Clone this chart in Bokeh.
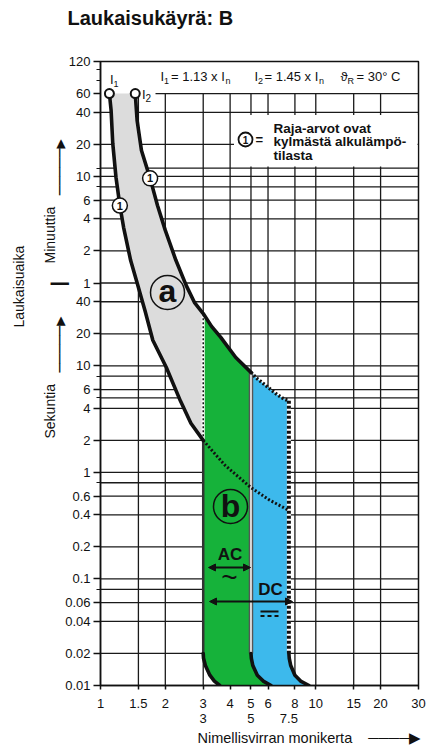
import math
from bokeh.plotting import figure
from bokeh.models import (FixedTicker, Label, Arrow, NormalHead, Title, LogAxis)
from bokeh.embed import file_html
from bokeh.resources import INLINE

# ---------------- data ----------------
x_ticks = [1, 1.5, 2, 3, 4, 5, 6, 8, 10, 15, 20, 30]
x_tick_labels = ["1", "1.5", "2", "3", "4", "5", "6", "8", "10", "15", "20", "30"]
x_second_row = [3, 5, 7.5]
x_second_labels = ["3", "5", "7.5"]
x_grid = [1.5, 2, 3, 4, 5, 6, 8, 10, 15, 20]

sec_ticks = [0.01, 0.02, 0.04, 0.06, 0.1, 0.2, 0.4, 0.6, 1, 2, 4, 6, 10, 20, 40]
sec_labels = ["0.01", "0.02", "0.04", "0.06", "0.1", "0.2", "0.4", "0.6",
              "1", "2", "4", "6", "10", "20", "40"]
min_ticks = [1, 2, 4, 6, 10, 20, 40, 60, 120]
min_labels = ["1", "2", "4", "6", "10", "20", "40", "60", "120"]
sec_minor = [0.08, 0.8, 5, 8]
min_minor = [8, 12, 80, 100]
sec_grid = [0.02, 0.04, 0.06, 0.08, 0.1, 0.2, 0.4, 0.6, 0.8, 1, 2, 4, 5, 6, 8, 10, 20, 40]
min_grid = [1, 2, 4, 6, 8, 10, 12, 20, 40]
min_grid_top = 60

# I1 curve (lower thermal limit), multiple of In vs seconds
i1_x = [1.10, 1.12, 1.14, 1.18, 1.23, 1.28, 1.38, 1.48, 1.61, 1.75, 2.02, 2.35, 2.63, 3.0]
i1_t = [3600, 2500, 1230, 590, 320, 200, 98, 60, 33, 17.4, 9.7, 4.7, 2.9, 2.0]
# I2 curve (upper limit)
i2_x = [1.45, 1.48, 1.55, 1.70, 1.84, 2.0, 2.24, 2.5, 2.74, 3.0, 3.28, 3.62, 4.25, 5.0]
i2_t = [3600, 2000, 1050, 576, 320, 187, 98, 57, 39, 31, 23.5, 18.5, 12.0, 8.7]
# DC upper limit (dotted)
dc_x = [5.0, 5.3, 6.0, 6.6, 7.1, 7.5]
dc_t = [8.7, 7.7, 6.3, 5.4, 4.9, 4.7]
# continuation of thermal curve (dotted)
ext_x = [3.0, 3.8, 5.0, 6.1, 7.5]
ext_t = [2.0, 1.16, 0.72, 0.55, 0.44]
# bottom ends of the magnetic zones
ac_tail_x = [3.0, 3.01, 3.07, 3.22, 3.38, 3.58]
ac_tail_t = [0.02, 0.018, 0.0154, 0.0125, 0.011, 0.01]
ac_end_x = [5.0, 5.02, 5.1, 5.35, 5.7, 6.2]
ac_end_t = [0.02, 0.018, 0.0154, 0.0125, 0.011, 0.01]
dc_end_x = [7.5, 7.53, 7.65, 8.0, 8.5, 9.3]
dc_end_t = [0.02, 0.018, 0.0154, 0.0125, 0.011, 0.01]

# ---------------- layout helpers (reference pixel -> data) ----------------
W, H = 427, 745
FX0, FX1, FY0, FY1 = 100, 418, 61, 685
X_MIN, X_MAX, T_MIN, T_MAX = 1, 30, 0.01, 7200
LX = math.log10(X_MAX / X_MIN)
LT = math.log10(T_MAX / T_MIN)


def dx(px):
    return X_MIN * 10 ** ((px - FX0) / (FX1 - FX0) * LX)


def dy(py):
    return T_MIN * 10 ** ((FY1 - py) / (FY1 - FY0) * LT)


FONT = "Liberation Sans"
INK = "#111111"
NB = "\u00a0"
HL = "\u2500"
TRI = "\u25b6"

p = figure(width=W, height=H, x_axis_type="log", y_axis_type="log",
           x_range=(X_MIN, X_MAX), y_range=(T_MIN, T_MAX),
           toolbar_location=None, output_backend="svg",
           min_border_left=FX0, min_border_right=W - FX1,
           min_border_top=FY0, min_border_bottom=H - FY1)
p.xgrid.visible = False
p.ygrid.visible = False
p.outline_line_color = INK
p.outline_line_width = 1.5
p.background_fill_color = "white"
p.border_fill_color = "white"

# title (second empty line only lifts the title inside the top border)
p.title.text = "Laukaisukäyrä: B\n" + NB
p.title.align = "left"
p.title.offset = -33
p.title.vertical_align = "top"
p.title.standoff = 4
p.title.text_line_height = 1.3
p.title.text_font = FONT
p.title.text_font_size = "20px"
p.title.text_font_style = "bold"
p.title.text_color = INK

# axes
y_ticks = sec_ticks + [m * 60 for m in min_ticks]
y_labels = sec_labels + min_labels
y_minor = sec_minor + [m * 60 for m in min_minor]
p.yaxis.ticker = FixedTicker(ticks=y_ticks, minor_ticks=y_minor)
p.yaxis.major_label_overrides = {t: l for t, l in zip(y_ticks, y_labels)}
p.xaxis.ticker = FixedTicker(ticks=x_ticks, minor_ticks=[])
p.xaxis.major_label_overrides = {t: l for t, l in zip(x_ticks, x_tick_labels)}
for ax in (p.xaxis[0], p.yaxis[0]):
    ax.axis_line_color = INK
    ax.axis_line_width = 1.5
    ax.major_tick_line_color = INK
    ax.major_tick_line_width = 1.5
    ax.minor_tick_line_color = INK
    ax.minor_tick_line_width = 1.2
    ax.major_tick_in = 0
    ax.minor_tick_in = 0
    ax.major_label_text_font = FONT
    ax.major_label_text_font_size = "13px"
    ax.major_label_text_color = INK
p.yaxis.major_tick_out = 7
p.yaxis.minor_tick_out = 4
p.yaxis.major_label_standoff = 3
p.xaxis.major_tick_out = 4
p.xaxis.minor_tick_out = 0
p.xaxis.major_label_standoff = 9


def spacer(side, size_px):
    # an empty title that only reserves space in a side panel
    p.add_layout(Title(text=NB, text_font_size="1px", standoff=size_px - 3.15,
                       text_color="white"), side)


# second row of x labels
ax2 = LogAxis(ticker=FixedTicker(ticks=x_second_row, minor_ticks=[]),
              major_label_overrides={t: l for t, l in zip(x_second_row, x_second_labels)},
              axis_line_color=None, major_tick_line_color=None, minor_tick_line_color=None,
              major_tick_out=0, major_tick_in=0, major_label_standoff=3,
              major_label_text_font=FONT, major_label_text_font_size="13px",
              major_label_text_color=INK)
p.add_layout(ax2, "below")
spacer("below", 3.5)
p.add_layout(Title(text="Nimellisvirran monikerta" + NB * 4 + HL * 4 + TRI,
                   align="left", offset=97, standoff=-2,
                   text_font=FONT, text_font_size="14.5px", text_font_style="normal",
                   text_color=INK), "below")

# left side: arrow column, "Sekuntia / Minuuttia" column, "Laukaisuaika" column
p.add_layout(Title(text=HL * 5 + TRI + NB * 3 + "\u2503" + NB * 9 + HL * 5 + TRI,
                   align="left", offset=FY1 - 372, standoff=-13,
                   text_font="DejaVu Sans Mono", text_font_size="15.5px",
                   text_font_style="normal", text_color=INK), "left")
p.add_layout(Title(text="Sekuntia" + NB * 31 + "Minuuttia", align="left", offset=FY1 - 438,
                   standoff=-4.6, text_font=FONT, text_font_size="14px",
                   text_font_style="normal", text_color=INK), "left")
spacer("left", 20.7)
p.add_layout(Title(text="Laukaisuaika", align="left", offset=FY1 - 327, standoff=-10,
                   text_font=FONT, text_font_size="14px", text_font_style="normal",
                   text_color=INK), "left")

# ---------------- grid ----------------
GRID = "#1a1a1a"
h_lines = sec_grid + [m * 60 for m in min_grid]
p.segment(x0=[X_MIN] * len(h_lines), x1=[X_MAX] * len(h_lines), y0=h_lines, y1=h_lines,
          line_color=GRID, line_width=1.3)
p.segment(x0=[dx(155)], x1=[X_MAX], y0=[min_grid_top * 60], y1=[min_grid_top * 60],
          line_color=GRID, line_width=1.3)
p.segment(x0=x_grid, x1=x_grid, y0=[T_MIN] * len(x_grid), y1=[min_grid_top * 60] * len(x_grid),
          line_color=GRID, line_width=1.3)
# white box behind the footnote
p.quad(left=[dx(233.5)], right=[dx(417)], bottom=[dy(166)], top=[dy(114.5)],
       fill_color="white", line_color=None)

# ---------------- zones ----------------
gray_x = i1_x + i2_x[9::-1]
gray_t = i1_t + i2_t[9::-1]
p.patch(gray_x, gray_t, fill_color="#dcdcdc", line_color=None)

green_x = i2_x[9:] + ac_end_x + ac_tail_x[::-1]
green_t = i2_t[9:] + ac_end_t + ac_tail_t[::-1]
p.patch(green_x, green_t, fill_color="#16b23a", line_color=None)

blue_x = dc_x + dc_end_x + ac_end_x[::-1]
blue_t = dc_t + dc_end_t + ac_end_t[::-1]
p.patch(blue_x, blue_t, fill_color="#3db9ec", line_color=None)

# zone edges
p.line([i1_x[-1], ac_tail_x[0]], [ext_t[0], ac_tail_t[0]], line_color="#333333", line_width=2.5)
p.line([i1_x[-1], i2_x[9]], [i1_t[-1], i2_t[9]], line_color="white", line_width=3)
p.line([i1_x[-1], i2_x[9]], [i1_t[-1], i2_t[9]], line_color=INK, line_width=1.5, line_dash="2 2")
p.line([i2_x[-1], ac_end_x[0]], [i2_t[-1], ac_end_t[0]], line_color="#555555", line_width=4.5)
p.line([i2_x[-1], ac_end_x[0]], [i2_t[-1], ac_end_t[0]], line_color="white", line_width=1.5)
p.line([dc_x[-1], dc_end_x[0]], [dc_t[-1], dc_end_t[0]], line_color="white", line_width=4)
p.line([dc_x[-1], dc_end_x[0]], [dc_t[-1], dc_end_t[0]], line_color=INK, line_width=4, line_dash="3 2")

# thick curves
for xs, ts in ((i1_x, i1_t), (i2_x, i2_t), (ac_tail_x, ac_tail_t),
               (ac_end_x, ac_end_t), (dc_end_x, dc_end_t)):
    p.line(xs, ts, line_color=INK, line_width=3.6, line_join="round", line_cap="round")

# dotted curves
p.line(ext_x, ext_t, line_color=INK, line_width=3, line_dash="2 2")
p.line(dc_x, dc_t, line_color=INK, line_width=3.5, line_dash="2 2")

# start circles of I1 and I2
p.scatter([i1_x[0], i2_x[0]], [i1_t[0], i2_t[0]], size=9, marker="circle",
          fill_color="white", line_color=INK, line_width=2)
# "1" markers on the curves
p.scatter([i1_x[4], i2_x[3]], [i1_t[4], i2_t[3]], size=15, marker="circle",
          fill_color="white", line_color=INK, line_width=1.5)


def lab(text, px, py, size="13px", bold=False, align="left", baseline="middle", color=INK):
    p.add_layout(Label(x=dx(px), y=dy(py), text=text, text_font=FONT,
                       text_font_size=size, text_font_style="bold" if bold else "normal",
                       text_align=align, text_baseline=baseline, text_color=color))


for xs, ts in ((i1_x[4], i1_t[4]), (i2_x[3], i2_t[3])):
    p.add_layout(Label(x=xs, y=ts, text="1", text_font=FONT, text_font_size="11px",
                       text_font_style="bold", text_align="center", text_baseline="middle",
                       text_color=INK))

# zone letters
p.scatter([dx(167), dx(230)], [dy(292), dy(506)], size=34, marker="circle",
          fill_color=None, line_color=INK, line_width=1.5)
lab("a", 167, 290, size="32px", bold=True, align="center")
lab("b", 230, 505, size="32px", bold=True, align="center")

# AC / DC
lab("AC", 229.5, 554, size="17px", bold=True, align="center")
lab("~", 229, 577, size="28px", align="center")
lab("DC", 270, 589, size="17px", bold=True, align="center")
head = dict(size=7, fill_color=INK, line_color=INK)
p.add_layout(Arrow(start=NormalHead(**head), end=NormalHead(**head),
                   x_start=dx(208), y_start=dy(567), x_end=dx(250), y_end=dy(567),
                   line_width=2, line_color=INK))
p.add_layout(Arrow(start=NormalHead(**head), end=NormalHead(**head),
                   x_start=dx(209), y_start=dy(601), x_end=dx(292), y_end=dy(601),
                   line_width=2, line_color=INK))
p.line([dx(260), dx(278)], [dy(611), dy(611)], line_color=INK, line_width=2)
p.line([dx(260), dx(278)], [dy(615.5), dy(615.5)], line_color=INK, line_width=2, line_dash="4 3")

# top formula row
lab("I", 160, 76)
lab("1", 163.6, 80, size="9px")
lab("= 1.13 x I", 170.5, 76)
lab("n", 225, 80, size="9px")
lab("I", 254, 76)
lab("2", 257.6, 80, size="9px")
lab("= 1.45 x I", 264, 76)
lab("n", 318.5, 80, size="9px")
lab("\u03d1", 340, 76)
lab("R", 347, 80, size="9px")
lab("= 30\u00b0 C", 356, 76)

# I1 / I2 markers text
lab("I", 109.5, 79)
lab("1", 113, 83.5, size="9px")
lab("I", 141.5, 94)
lab("2", 145, 97.5, size="10px")

# footnote
p.scatter([dx(245)], [dy(139)], size=14, marker="circle", fill_color="white",
          line_color=INK, line_width=1.8)
lab("1", 245, 139, size="10px", bold=True, align="center")
lab("=", 255, 139, size="13px", bold=True)
lab("Raja-arvot ovat", 273, 127.5, size="13.5px", bold=True)
lab("kylmästä alkulämpö-", 273, 141, size="13.5px", bold=True)
lab("tilasta", 273, 155, size="13.5px", bold=True)

open("out.html", "w").write(file_html(p, INLINE))
